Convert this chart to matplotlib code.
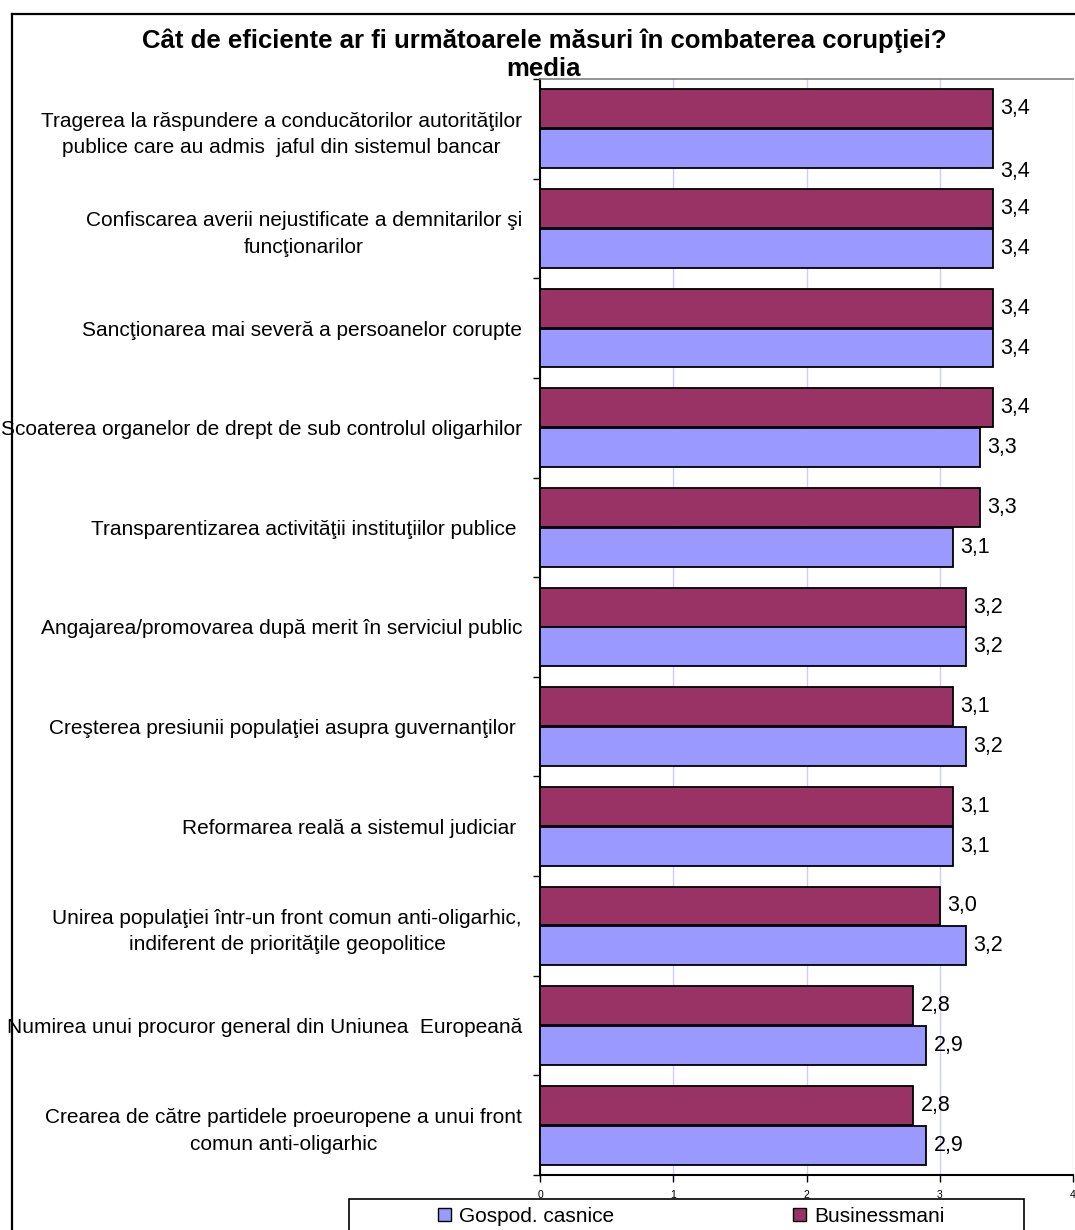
import numpy as np
import matplotlib
matplotlib.use("Agg")
from matplotlib import pyplot as plt
from matplotlib.patches import Patch, Rectangle
from matplotlib.lines import Line2D

plt.rcParams['font.family'] = ['Liberation Sans', 'DejaVu Sans']

# data
categories = [
    "Tragerea la răspundere a conducătorilor autorităţilor\npublice care au admis  jaful din sistemul bancar",
    "Confiscarea averii nejustificate a demnitarilor şi\nfuncţionarilor",
    "Sancţionarea mai severă a persoanelor corupte",
    "Scoaterea organelor de drept de sub controlul oligarhilor",
    "Transparentizarea activităţii instituţiilor publice ",
    "Angajarea/promovarea după merit în serviciul public",
    "Creşterea presiunii populaţiei asupra guvernanţilor ",
    "Reformarea reală a sistemul judiciar ",
    "Unirea populaţiei într-un front comun anti-oligarhic,\nindiferent de priorităţile geopolitice",
    "Numirea unui procuror general din Uniunea  Europeană",
    "Crearea de către partidele proeuropene a unui front\ncomun anti-oligarhic",
]
businessmani = [3.4, 3.4, 3.4, 3.4, 3.3, 3.2, 3.1, 3.1, 3.0, 2.8, 2.8]
gospodarii = [3.4, 3.4, 3.4, 3.3, 3.1, 3.2, 3.2, 3.1, 3.2, 2.9, 2.9]
series_names = ["Gospod. casnice", "Businessmani"]
xticks = [0, 1, 2, 3, 4]

title = "Cât de eficiente ar fi următoarele măsuri în combaterea corupţiei?"
subtitle = "media"

c_red = "#993366"
c_blue = "#9999ff"

W, H = 1075, 1230
fig = plt.figure(figsize=(W / 100, H / 100), dpi=100)

# plot area (pixel coords from reference)
x0, x1 = 540, 1073
ytop, ybot = 79, 1175
ax = fig.add_axes([x0 / W, 1 - ybot / H, (x1 - x0) / W, (ybot - ytop) / H])

y = np.arange(len(categories))
h = 0.39
ax.barh(y - 0.2, businessmani, height=h, color=c_red, edgecolor="black", linewidth=1.3, zorder=3)
ax.barh(y + 0.2, gospodarii, height=h, color=c_blue, edgecolor="black", linewidth=1.3, zorder=3)

fmt = lambda v: f"{v:.1f}".replace(".", ",")
for i, v in enumerate(businessmani):
    ax.text(v + 0.055, i - 0.2, fmt(v), va="center", ha="left", fontsize=15.5)
for i, v in enumerate(gospodarii):
    dy = 0.23 if i == 0 else 0  # first label sits lower in the original
    ax.text(v + 0.055, i + 0.2 + dy, fmt(v), va="center", ha="left", fontsize=15.5)

ax.set_xlim(0, 4)
ax.set_ylim(len(categories) - 0.5, -0.5)
ax.set_xticks(xticks)
ax.set_xticklabels([str(t) for t in xticks], fontsize=7.5)
ax.set_yticks(np.arange(len(categories) + 1) - 0.5, minor=False)
ax.set_yticklabels([])
ax.set_yticks(y, minor=True)
ax.set_yticklabels(categories, minor=True, fontsize=15, multialignment="center", linespacing=1.5)
ax.tick_params(axis="y", which="minor", length=0, pad=13)
ax.tick_params(axis="y", which="major", length=5, width=1, direction="out")
ax.tick_params(axis="x", length=5, width=1, direction="out", pad=6)

ax.grid(axis="x", color="#ccccff", linewidth=1, zorder=0)
ax.set_axisbelow(True)
for s in ["left", "bottom"]:
    ax.spines[s].set_color("black")
    ax.spines[s].set_linewidth(1.5)
ax.spines["top"].set_color("#808080")
ax.spines["top"].set_linewidth(1.2)
ax.spines["right"].set_visible(False)

# titles
fig.text(544 / W, 1 - 41 / H, title, ha="center", va="center", fontsize=18.5, fontweight="bold")
fig.text(544 / W, 1 - 69 / H, subtitle, ha="center", va="center", fontsize=18.5, fontweight="bold")

# outer chart frame
fig.add_artist(Line2D([12 / W, 12 / W], [0, 1 - 14 / H], color="black", lw=1.6, transform=fig.transFigure))
fig.add_artist(Line2D([12 / W, 1], [1 - 14 / H, 1 - 14 / H], color="black", lw=1.6, transform=fig.transFigure))

# legend box
fig.add_artist(Rectangle((349 / W, -0.01), (1024 - 349) / W, 0.01 + 1 - 1199 / H,
                         transform=fig.transFigure, facecolor="white", edgecolor="black", lw=1.2, zorder=5))
handles = [Patch(facecolor=c_blue, edgecolor="black", label=series_names[0]),
           Patch(facecolor=c_red, edgecolor="black", label=series_names[1])]
leg = fig.legend(handles=handles, loc="center left", bbox_to_anchor=(438 / W, 1 - 1216 / H), ncol=2,
                 frameon=False, fontsize=15, handlelength=0.6, handleheight=0.6, handletextpad=0.4,
                 columnspacing=8.6, borderpad=0, borderaxespad=0)
leg.set_zorder(6)

fig.savefig("out.png", dpi=100)
